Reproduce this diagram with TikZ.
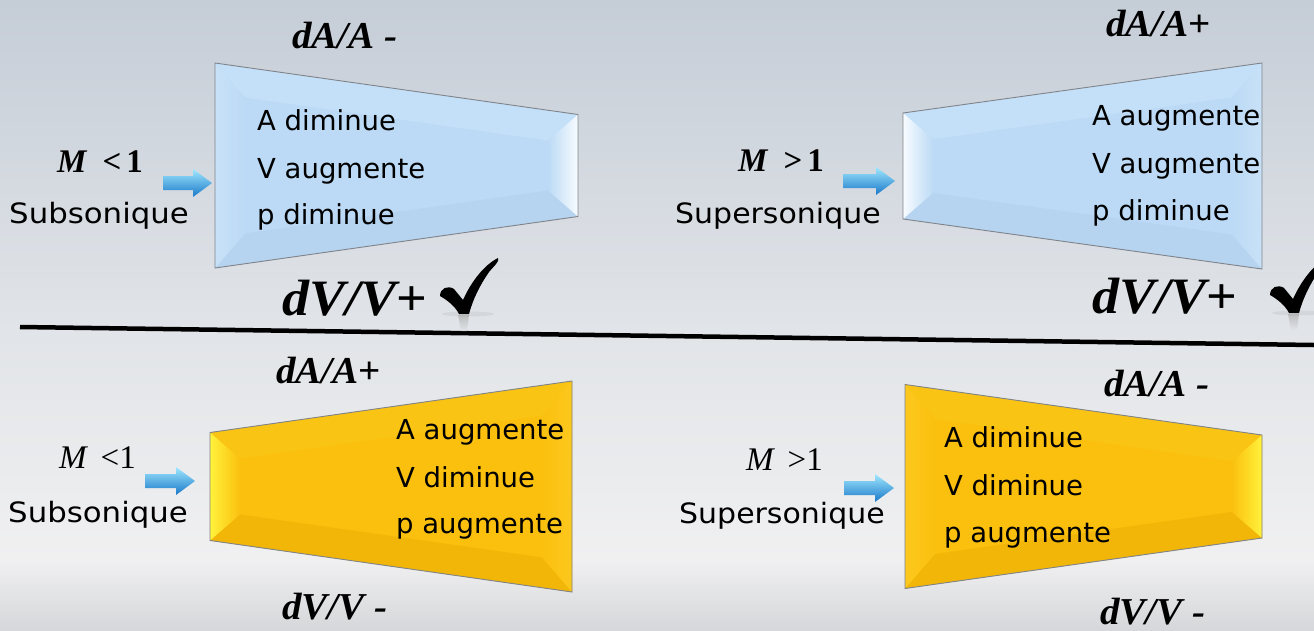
\documentclass[tikz,border=0pt]{standalone}
\usepackage{fontspec}
\setmainfont{Liberation Serif}
\newfontfamily\sansf{DejaVu Sans}
\usetikzlibrary{calc}

\definecolor{bgtop}{RGB}{197,205,215}
\definecolor{bgmid}{RGB}{225,228,232}
\definecolor{bglight}{RGB}{240,240,241}
\definecolor{bgbot}{RGB}{214,215,218}
\definecolor{bluebase}{RGB}{188,218,245}
\definecolor{bluetop}{RGB}{196,224,248}
\definecolor{bluebot}{RGB}{182,212,240}
\definecolor{bluewide}{RGB}{200,225,247}
\definecolor{bluehi}{RGB}{248,252,255}
\definecolor{goldbase}{RGB}{251,192,14}
\definecolor{goldtop}{RGB}{250,196,20}
\definecolor{goldbot}{RGB}{242,182,8}
\definecolor{goldwide}{RGB}{252,200,30}
\definecolor{goldhi}{RGB}{255,242,60}
\definecolor{edgegray}{RGB}{128,132,138}
\definecolor{arrowtop}{RGB}{160,232,255}
\definecolor{arrowmid}{RGB}{50,185,240}
\definecolor{arrowbot}{RGB}{25,120,200}

\tikzset{
  inner/.style={anchor=base west, inner sep=0pt, font=\sansf\fontsize{27.5}{30}\selectfont},
  regime/.style={anchor=base west, inner sep=0pt, font=\sansf\fontsize{28}{30}\selectfont},
  dlab/.style={anchor=base west, inner sep=0pt, font=\bfseries\itshape\fontsize{38}{42}\selectfont},
  dbig/.style={anchor=base west, inner sep=0pt, font=\bfseries\itshape\fontsize{51}{55}\selectfont},
  mlabb/.style={anchor=base west, inner sep=0pt, font=\bfseries\fontsize{33}{36}\selectfont},
  mlab/.style={anchor=base west, inner sep=0pt, font=\fontsize{33}{36}\selectfont},
  nozedge/.style={draw=edgegray, line width=0.9pt, line join=miter},
  rule/.style={line width=4.5pt, black},
  checkfill/.style={fill=black},
}

% #1 L, #2 R, #3 c, #4 hl, #5 hr, #6 colour prefix, #7 left face, #8 right face
\newcommand\nozzle[8]{%
  \pgfmathsetmacro\nL{#1}\pgfmathsetmacro\nR{#2}\pgfmathsetmacro\nc{#3}%
  \pgfmathsetmacro\nhl{#4}\pgfmathsetmacro\nhr{#5}%
  \pgfmathsetmacro\nd{30}%
  \pgfmathsetmacro\nm{(\nhr-\nhl)/(\nR-\nL)}%
  \pgfmathsetmacro\nk{\nd*sqrt(1+\nm*\nm)}%
  \pgfmathsetmacro\ihl{\nhl+\nm*\nd-\nk}%
  \pgfmathsetmacro\ihr{\nhr-\nm*\nd-\nk}%
  \coordinate (o1) at (\nL,\nc-\nhl);
  \coordinate (o2) at (\nR,\nc-\nhr);
  \coordinate (o3) at (\nR,\nc+\nhr);
  \coordinate (o4) at (\nL,\nc+\nhl);
  \coordinate (i1) at (\nL+\nd,\nc-\ihl);
  \coordinate (i2) at (\nR-\nd,\nc-\ihr);
  \coordinate (i3) at (\nR-\nd,\nc+\ihr);
  \coordinate (i4) at (\nL+\nd,\nc+\ihl);
  \fill[#6base] (o1) -- (o2) -- (o3) -- (o4) -- cycle;
  \fill[#6top] (o1) -- (o2) -- (i2) -- (i1) -- cycle;
  \fill[#6bot] (o4) -- (o3) -- (i3) -- (i4) -- cycle;
  \shade[#7] (o1) -- (i1) -- (i4) -- (o4) -- cycle;
  \shade[#8] (o2) -- (i2) -- (i3) -- (o3) -- cycle;
  \draw[nozedge] (o1) -- (o2) -- (o3) -- (o4) -- cycle;
}

% x0 x1 cy
\newcommand\flowarrow[3]{%
  \shade[top color=arrowtop, middle color=arrowmid, bottom color=arrowbot]
    (#1,#3-7) -- (#2-19,#3-7) -- (#2-19,#3-14) -- (#2,#3) -- (#2-19,#3+14)
    -- (#2-19,#3+7) -- (#1,#3+7) -- cycle;
}

% dx dy
\newcommand\checkmk[2]{%
  \begin{scope}[shift={(#1,#2)}]
    \shade[top color=gray!70, bottom color=bgmid, opacity=0.6] (458,315) -- (469,315) -- (467,331) -- (461,331) -- cycle;
    \fill[gray, opacity=0.12] (468,314) ellipse[x radius=26pt, y radius=2.5pt];
    \fill[checkfill] (440,296) .. controls (440,288) and (448,285) .. (454,289)
      -- (463,300) .. controls (471,282) and (484,265) .. (498,258)
      .. controls (500,261) and (494,266) .. (489,272)
      .. controls (480,285) and (473,299) .. (469,314)
      -- (459,314) .. controls (455,306) and (447,300) .. (440,296) -- cycle;
  \end{scope}
}

\begin{document}
\begin{tikzpicture}[x=1pt,y=-1pt]
\useasboundingbox (0,0) rectangle (1314,630);
\begin{scope}
\clip (0,0) rectangle (1314,630);
% background
\shade[top color=bgtop, bottom color=bgmid] (0,0) rectangle (1314,330);
\shade[top color=bgmid, bottom color=bglight] (0,329.5) rectangle (1314,560);
\shade[top color=bglight, bottom color=bgbot] (0,559.5) rectangle (1314,630);

% separating rule
\coordinate (ruleL) at (20,327);
\coordinate (ruleR) at (1314,345);
\draw[rule] (ruleL) -- (ruleR);

% nozzles
\nozzle{215}{578}{165.5}{102.5}{51}{blue}{left color=bluewide, right color=bluebase}{left color=bluebase, right color=bluehi}
\nozzle{903}{1262}{166}{53}{103}{blue}{left color=bluehi, right color=bluebase}{left color=bluebase, right color=bluewide}
\nozzle{210}{572}{486.5}{54}{105.5}{gold}{left color=goldhi, right color=goldbase}{left color=goldbase, right color=goldwide}
\nozzle{905}{1262}{486.5}{102}{51.5}{gold}{left color=goldwide, right color=goldbase}{left color=goldbase, right color=goldhi}

% arrows
\flowarrow{163}{212}{183}
\flowarrow{843}{895}{181}
\flowarrow{145}{195}{481}
\flowarrow{844}{894}{488}

% check marks
\checkmk{0}{0}
\checkmk{830}{-1}

% ---- top left
\node[dlab] (tlA) at (292,48) {\scalebox{1.03}[1]{dA/A -}};
\node[mlabb] (tlM) at (57,172) {\itshape M\hspace{16pt}\upshape <\hspace{5pt}1};
\node[regime] (tlS) at (9,223) {\scalebox{1.1}[1]{Subsonique}};
\node[inner] (tl1) at (257,130) {A diminue};
\node[inner] (tl2) at (257,178) {V augmente};
\node[inner] (tl3) at (257,224) {p diminue};
\node[dbig] (tlV) at (282,315) {\scalebox{1.06}[1]{dV/V{\upshape +}}};

% ---- top right
\node[dlab] (trA) at (1106,36) {\scalebox{1.03}[1]{dA/A{\upshape +}}};
\node[mlabb] (trM) at (738,171) {\itshape M\hspace{16pt}\upshape >\hspace{5pt}1};
\node[regime] (trS) at (675,223) {\scalebox{1.07}[1]{Supersonique}};
\node[inner] (tr1) at (1092,125) {A augmente};
\node[inner] (tr2) at (1092,173) {V augmente};
\node[inner] (tr3) at (1092,220) {p diminue};
\node[dbig] (trV) at (1092,313) {\scalebox{1.06}[1]{dV/V{\upshape +}}};

% ---- bottom left
\node[dlab] (blA) at (276,383) {\scalebox{1.03}[1]{dA/A{\upshape +}}};
\node[mlab] (blM) at (59,468) {\itshape M\hspace{14pt}\upshape <1};
\node[regime] (blS) at (8,522) {\scalebox{1.1}[1]{Subsonique}};
\node[inner] (bl1) at (396,439) {A augmente};
\node[inner] (bl2) at (396,487) {V diminue};
\node[inner] (bl3) at (396,533) {p augmente};
\node[dlab] (blV) at (282,619) {\scalebox{1.03}[1]{dV/V -}};

% ---- bottom right
\node[dlab] (brA) at (1104,396) {\scalebox{1.03}[1]{dA/A -}};
\node[mlab] (brM) at (746,470) {\itshape M\hspace{14pt}\upshape >1};
\node[regime] (brS) at (679,523) {\scalebox{1.07}[1]{Supersonique}};
\node[inner] (br1) at (944,447) {A diminue};
\node[inner] (br2) at (944,495) {V diminue};
\node[inner] (br3) at (944,542) {p augmente};
\node[dlab] (brV) at (1100,624) {\scalebox{1.03}[1]{dV/V -}};
\end{scope}
\end{tikzpicture}
\end{document}
